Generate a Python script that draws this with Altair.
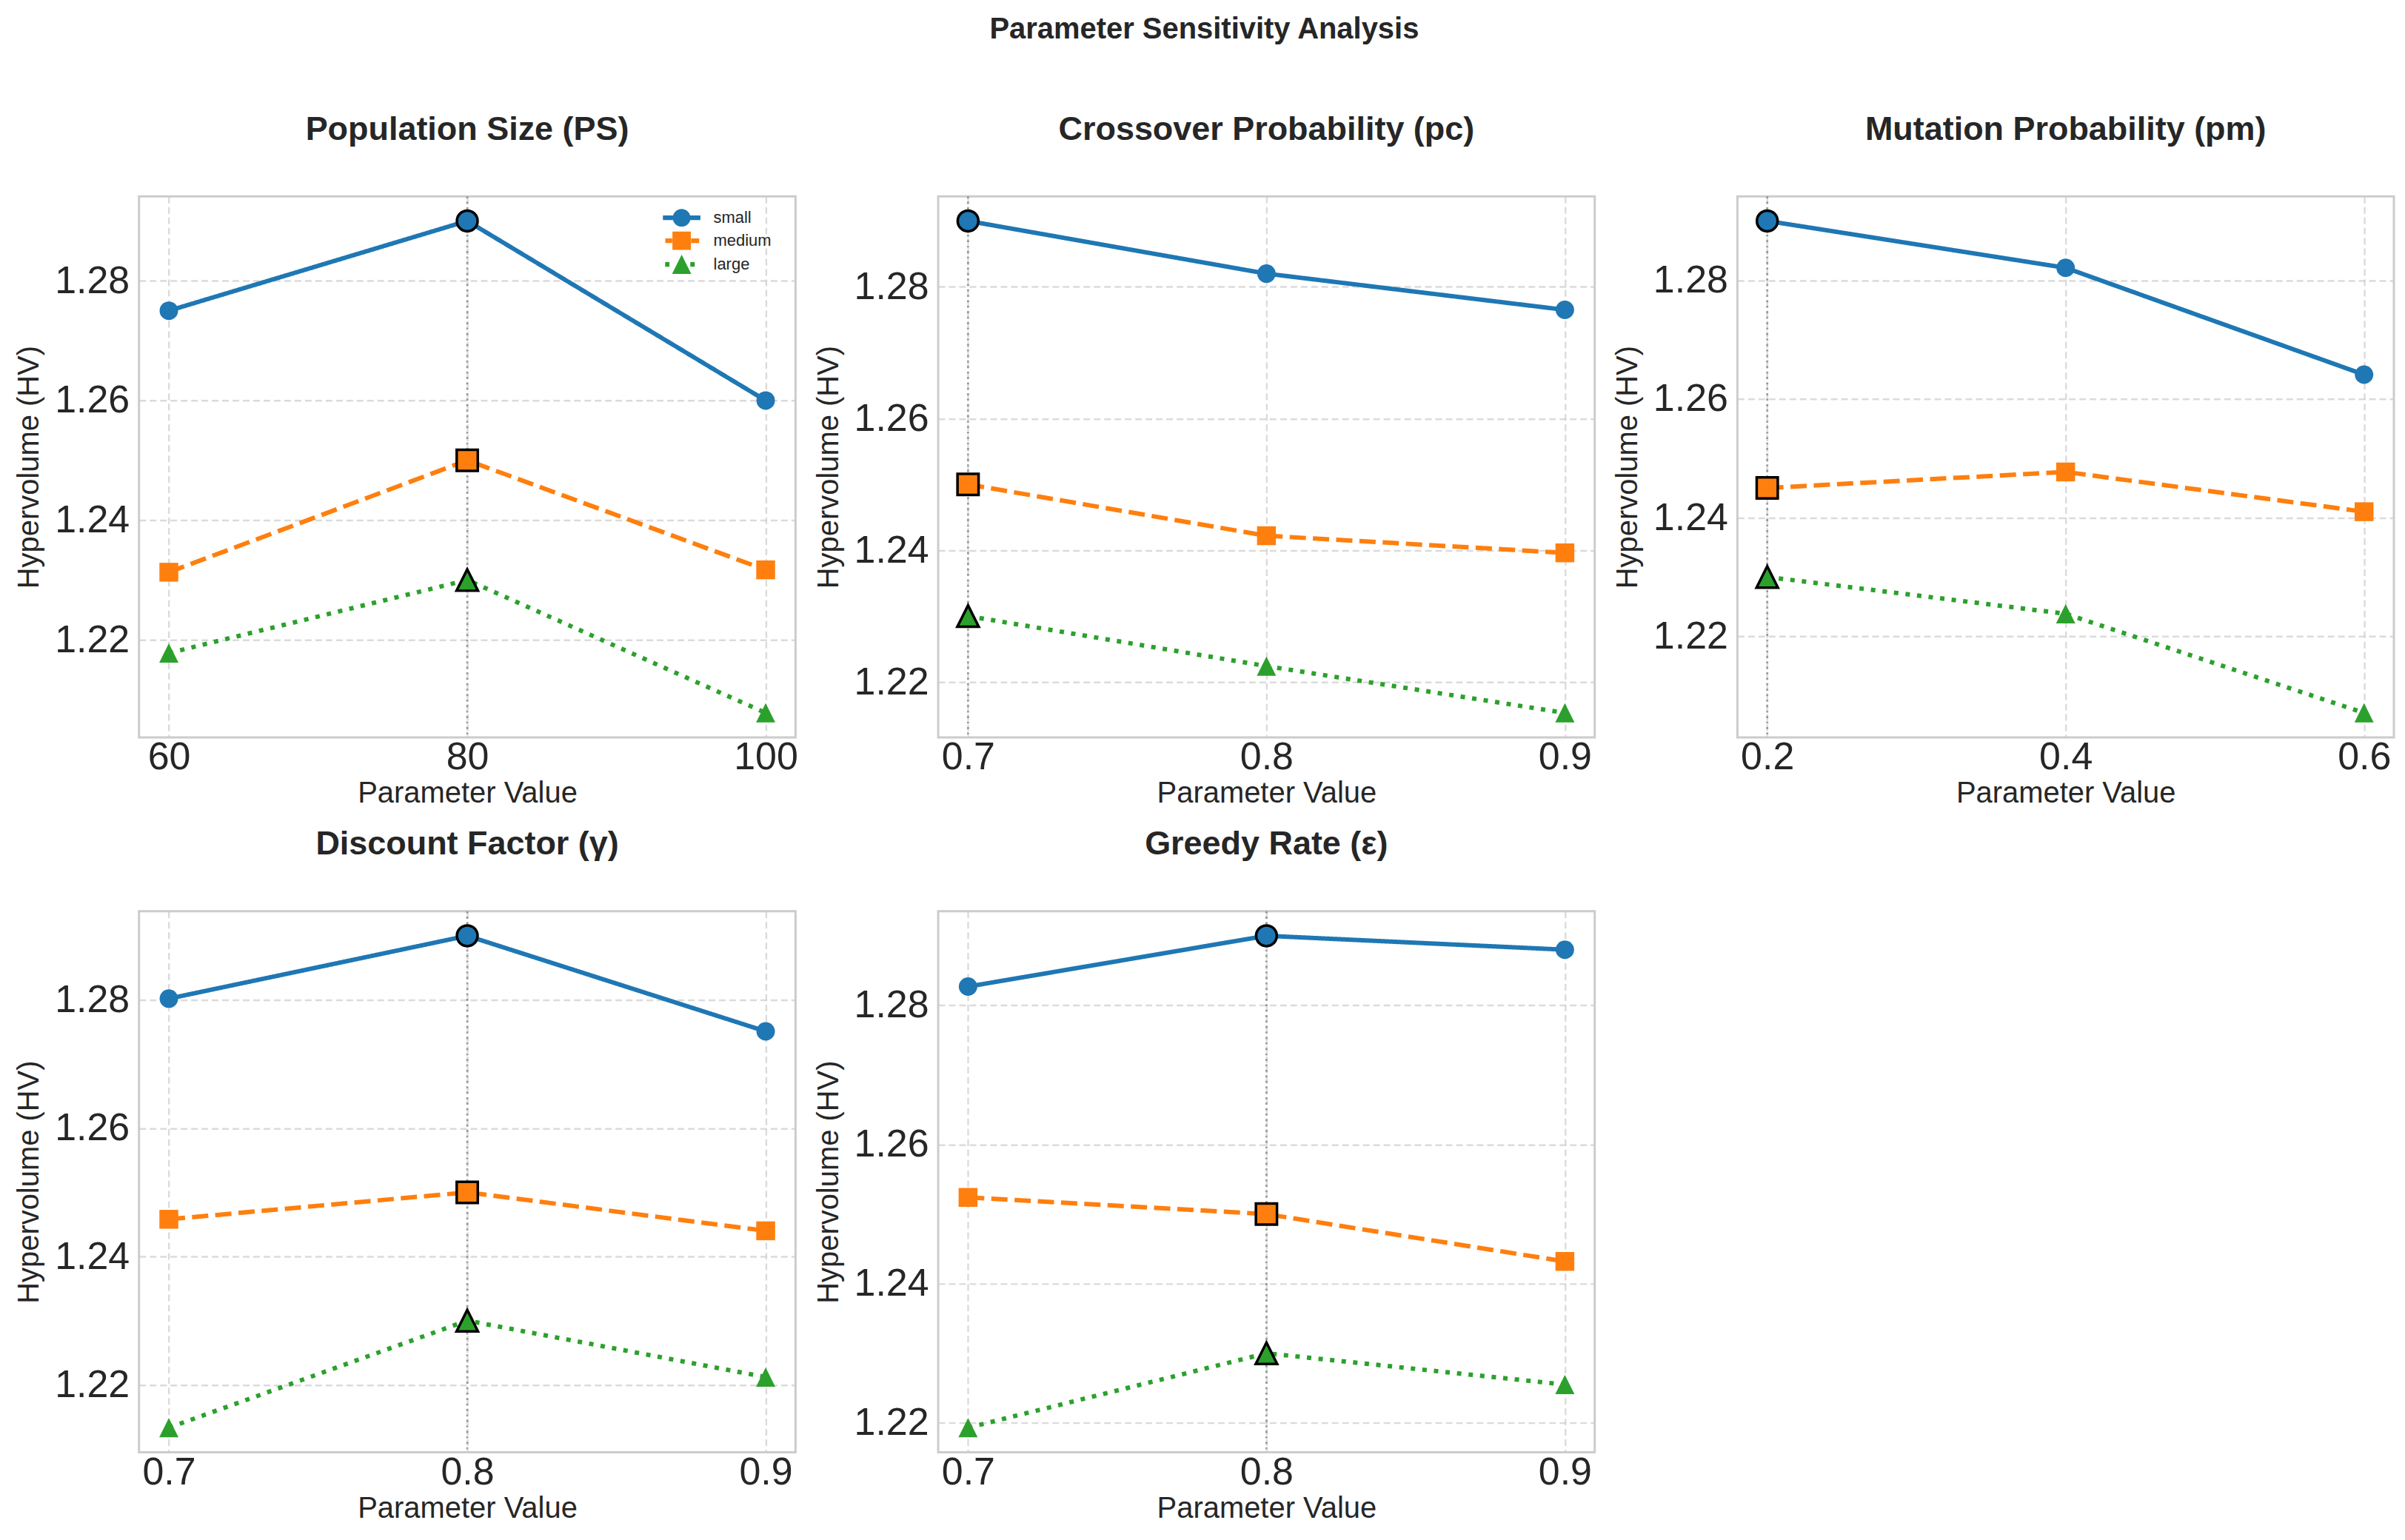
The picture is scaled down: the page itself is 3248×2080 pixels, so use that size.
import altair as alt
import pandas as pd

# ---------------- data ----------------
groups = ["small", "medium", "large"]
group_colors = ["#1f77b4", "#ff7f0e", "#2ca02c"]
y_ticks = [1.22, 1.24, 1.26, 1.28]

panel_titles = [
    "Population Size (PS)",
    "Crossover Probability (pc)",
    "Mutation Probability (pm)",
    "Discount Factor (γ)",
    "Greedy Rate (ε)",
]

ps_x = [60, 80, 100]
ps_small = [1.2750, 1.2900, 1.2600]
ps_medium = [1.2313, 1.2500, 1.2317]
ps_large = [1.2178, 1.2300, 1.2078]
ps_best = 80

pc_x = [0.7, 0.8, 0.9]
pc_small = [1.2900, 1.2820, 1.2765]
pc_medium = [1.2500, 1.2422, 1.2396]
pc_large = [1.2300, 1.2224, 1.2153]
pc_best = 0.7

pm_x = [0.2, 0.4, 0.6]
pm_small = [1.2900, 1.2821, 1.2641]
pm_medium = [1.2450, 1.2477, 1.2410]
pm_large = [1.2300, 1.2238, 1.2071]
pm_best = 0.2

gamma_x = [0.7, 0.8, 0.9]
gamma_small = [1.2802, 1.2900, 1.2751]
gamma_medium = [1.2458, 1.2500, 1.2440]
gamma_large = [1.2133, 1.2300, 1.2212]
gamma_best = 0.8

eps_x = [0.7, 0.8, 0.9]
eps_small = [1.2827, 1.2900, 1.2880]
eps_medium = [1.2524, 1.2500, 1.2432]
eps_large = [1.2193, 1.2300, 1.2255]
eps_best = 0.8

# ---------------- style ----------------
FONT = "Liberation Sans"
TXT = "#262626"
PW, PH = 888, 732
ROW_GAP = 235
dash_patterns = [[1, 0], [22, 9.5], [6, 9.7]]
TRI = "M0,-1L1,1L-1,1Z"
marker_shapes = ["circle", "square", TRI]
normal_sizes = [625, 676, 676]
best_sizes = [784, 841, 841]

# legend symbols: line piece + marker (unit = 13 px)
leg_small = ("M-1.95,-0.24H-0.85V0.24H-1.95Z M0.85,-0.24H1.95V0.24H0.85Z "
             "M-0.92,0 A0.92,0.92 0 1,1 0.92,0 A0.92,0.92 0 1,1 -0.92,0 Z")
leg_medium = ("M-1.7,-0.24H-0.98V0.24H-1.7Z M0.98,-0.24H1.82V0.24H0.98Z "
              "M-0.96,-0.96H0.96V0.96H-0.96Z")
leg_large = ("M-1.72,-0.24H-1.27V0.24H-1.72Z M0.9,-0.24H1.36V0.24H0.9Z "
             "M0,-1L1,1L-1,1Z")


def make_panel(title, xs, small, medium, large, best_x, xfmt, with_legend=False):
    rows = []
    for g, vals in zip(groups, [small, medium, large]):
        for xv, yv in zip(xs, vals):
            rows.append({"param": xv, "hv": yv, "group": g, "best": bool(xv == best_x)})
    df = pd.DataFrame(rows)
    ally = small + medium + large
    ylo, yhi = min(ally), max(ally)
    ym = 0.05 * (yhi - ylo)
    xlo, xhi = min(xs), max(xs)
    xm = 0.05 * (xhi - xlo)

    x = alt.X("param:Q",
              scale=alt.Scale(domain=[xlo - xm, xhi + xm], nice=False, zero=False),
              axis=alt.Axis(values=xs, format=xfmt, title="Parameter Value"))
    y = alt.Y("hv:Q",
              scale=alt.Scale(domain=[ylo - ym, yhi + ym], nice=False, zero=False),
              axis=alt.Axis(values=y_ticks, format=".2f", title="Hypervolume (HV)"))
    color = alt.Color("group:N", scale=alt.Scale(domain=groups, range=group_colors), legend=None)
    shape = alt.Shape("group:N", scale=alt.Scale(domain=groups, range=marker_shapes), legend=None)
    base = alt.Chart(df)

    rule = base.transform_filter("datum.best && datum.group == 'small'").mark_rule(
        color="#808080", strokeDash=[2.8, 4.6], strokeWidth=2.8, opacity=0.75
    ).encode(x=x)

    lines = base.mark_line(strokeWidth=6).encode(
        x=x, y=y, color=color,
        strokeDash=alt.StrokeDash("group:N", scale=alt.Scale(domain=groups, range=dash_patterns),
                                  legend=None),
    )
    pts = base.transform_filter("!datum.best").mark_point(
        filled=True, opacity=1, strokeWidth=0
    ).encode(x=x, y=y, color=color, shape=shape,
             size=alt.Size("group:N", scale=alt.Scale(domain=groups, range=normal_sizes), legend=None))
    hi = base.transform_filter("datum.best").mark_point(
        filled=True, opacity=1, stroke="black", strokeWidth=3.5
    ).encode(x=x, y=y, color=color, shape=shape,
             size=alt.Size("group:N", scale=alt.Scale(domain=groups, range=best_sizes), legend=None))

    layers = [rule, lines, pts, hi]
    if with_legend:
        leg = alt.Legend(orient="none", legendX=721, legendY=16, padding=0, title=None,
                         symbolSize=676, symbolStrokeWidth=0, labelFontSize=22,
                         labelFont=FONT, labelColor=TXT, labelOffset=30, rowPadding=6)
        legend_layer = base.transform_filter("false").mark_point(filled=True, opacity=1).encode(
            x=x, y=y,
            color=alt.Color("group:N", scale=alt.Scale(domain=groups, range=group_colors),
                            legend=leg),
            shape=alt.Shape("group:N",
                            scale=alt.Scale(domain=groups, range=[leg_small, leg_medium, leg_large]),
                            legend=leg),
        )
        layers.append(legend_layer)
    ch = alt.layer(*layers).properties(width=PW, height=PH, title=title)
    if with_legend:
        ch = ch.resolve_scale(color="independent", shape="independent", size="independent")
    else:
        ch = ch.resolve_scale(size="independent")
    return ch


p1 = make_panel(panel_titles[0], ps_x, ps_small, ps_medium, ps_large, ps_best, "d", with_legend=True)
p2 = make_panel(panel_titles[1], pc_x, pc_small, pc_medium, pc_large, pc_best, ".1f")
p3 = make_panel(panel_titles[2], pm_x, pm_small, pm_medium, pm_large, pm_best, ".1f")
p4 = make_panel(panel_titles[3], gamma_x, gamma_small, gamma_medium, gamma_large, gamma_best, ".1f")
p5 = make_panel(panel_titles[4], eps_x, eps_small, eps_medium, eps_large, eps_best, ".1f")

indep = dict(color="independent", shape="independent", strokeDash="independent", size="independent")
row1 = alt.hconcat(p1, p2, p3, spacing=193, bounds="flush").resolve_scale(**indep)
row2 = alt.hconcat(p4, p5, spacing=193, bounds="flush").resolve_scale(**indep)

# with flush bounds a nested row counts as zero height, so the spacing spans a full panel
chart = alt.vconcat(row1, row2, spacing=PH + ROW_GAP, bounds="flush").resolve_scale(
    **indep
).properties(
    title=alt.TitleParams("Parameter Sensitivity Analysis", fontSize=40, fontWeight="bold",
                          anchor="middle", offset=92, font=FONT, color=TXT),
    padding={"left": 10, "top": 10, "right": 5, "bottom": 5},
).configure_view(
    stroke="#cccccc", strokeWidth=3
).configure_axis(
    labelFont=FONT, labelFontSize=52, labelColor=TXT,
    titleFont=FONT, titleFontSize=40, titleFontWeight="normal", titleColor=TXT,
    ticks=False, domain=False, grid=True, gridColor="#cccccc", gridDash=[9, 5],
    gridWidth=2.4, gridOpacity=0.7, labelFlush=False, labelOverlap=False,
).configure_axisX(
    labelPadding=2, titlePadding=3
).configure_axisY(
    labelPadding=13, titlePadding=14
).configure_title(
    font=FONT, fontSize=45, fontWeight="bold", color=TXT, offset=66
)

chart.save("out.html", embed_options={"renderer": "svg", "actions": False})
